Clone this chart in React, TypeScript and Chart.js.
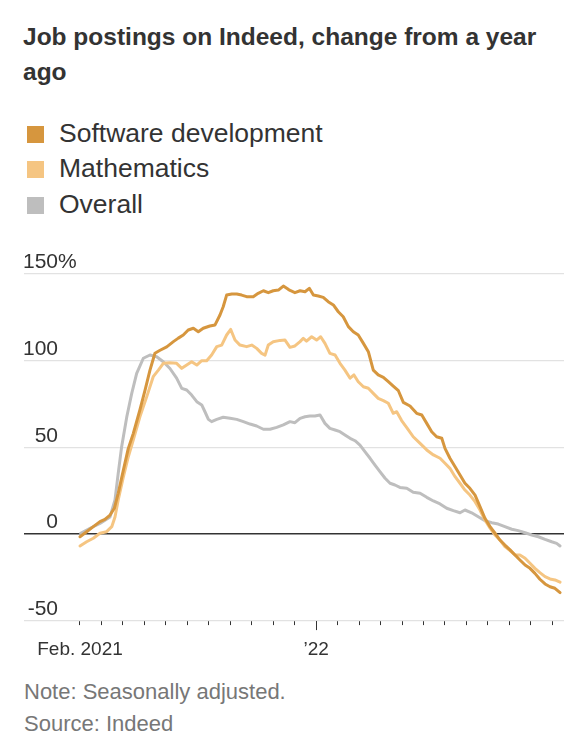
import React, { useEffect, useRef } from "react";
import { Chart, registerables } from "chart.js";

Chart.register(...registerables);

const FONT = '"Liberation Sans", Arial, sans-serif';

const titleLines = ["Job postings on Indeed, change from a year", "ago"];
const seriesNames = ["Software development", "Mathematics", "Overall"];
const seriesColors = ["#D6963E", "#F5C582", "#BEBEBE"];
const notes = ["Note: Seasonally adjusted.", "Source: Indeed"];

// x = months since Feb. 1, 2021
const softwareMonths = [
  0.0, 0.31, 0.62, 0.93, 1.16, 1.4, 1.6, 1.78, 2.02, 2.25, 2.48, 2.79, 3.03, 3.26, 3.49, 3.73, 4.04, 4.35,
  4.58, 4.81, 5.04, 5.28, 5.51, 5.74, 6.05, 6.29, 6.52, 6.67, 6.83, 7.07, 7.3, 7.53, 7.76, 8.07, 8.3, 8.54,
  8.77, 9.0, 9.24, 9.47, 9.7, 9.81, 10.01, 10.25, 10.48, 10.68, 10.87, 11.1, 11.33, 11.56, 11.8, 12.03,
  12.26, 12.5, 12.73, 12.96, 13.2, 13.43, 13.66, 13.89, 14.13, 14.36, 14.59, 14.83, 15.06, 15.37, 15.68,
  15.92, 16.15, 16.38, 16.61, 16.85, 17.0, 17.23, 17.47, 17.7, 17.93, 18.16, 18.4, 18.63, 18.86, 19.1,
  19.33, 19.56, 19.79, 20.03, 20.26, 20.49, 20.73, 20.96, 21.19, 21.42, 21.66, 21.89, 22.12, 22.36,
];
const softwareValues = [
  -1.4, 1.5, 4.4, 7.3, 8.6, 11.1, 15, 23.6, 37, 49.5, 58, 71.6, 83, 94.6, 104.3, 106, 108, 111,
  113, 114.8, 117.7, 118.7, 116.7, 118.7, 120, 120.6, 126.3, 131.1, 137.8, 138.4, 138.4, 137.8, 136.9, 136.9, 138.8, 140.3,
  139.2, 140.3, 140.7, 143, 141.1, 140.3, 139.2, 140.3, 139.7, 141.7, 137.8, 137.3, 136.5, 134, 132.1, 128.2,
  125.3, 119.6, 116.7, 114.8, 110, 105.2, 94.6, 91.8, 90.4, 87.9, 85.4, 82.7, 76, 73.9, 69.7,
  68.7, 63.9, 59.1, 56.2, 55.3, 49.5, 43.8, 38.9, 34.2, 29.4, 26.5, 22.6, 15.9, 9.2, 4.4,
  0.6, -3.3, -6.2, -9, -11.9, -14.8, -17.7, -19.6, -22.5, -25.9, -28.6, -30.2, -31.1, -33.6,
];

const mathMonths = [
  0.0, 0.31, 0.62, 0.93, 1.24, 1.48, 1.63, 1.78, 2.02, 2.25, 2.48, 2.79, 3.11, 3.41, 3.65, 3.88, 4.19, 4.5,
  4.74, 4.97, 5.2, 5.44, 5.67, 5.9, 6.13, 6.37, 6.6, 6.83, 7.02, 7.22, 7.45, 7.76, 8.0, 8.23, 8.46, 8.62,
  8.77, 9.0, 9.32, 9.55, 9.78, 10.01, 10.25, 10.4, 10.55, 10.79, 11.02, 11.21, 11.41, 11.64, 11.88, 12.11,
  12.34, 12.58, 12.76, 12.96, 13.2, 13.43, 13.66, 13.89, 14.13, 14.36, 14.59, 14.75, 14.98, 15.22, 15.52,
  15.84, 16.15, 16.46, 16.77, 17.0, 17.23, 17.47, 17.7, 17.93, 18.16, 18.4, 18.63, 18.86, 19.1, 19.33,
  19.56, 19.79, 20.03, 20.26, 20.49, 20.73, 20.96, 21.19, 21.42, 21.66, 21.89, 22.12, 22.36,
];
const mathValues = [
  -6.7, -4.3, -2.3, 0.6, 1.5, 4.4, 10, 19.8, 33, 44.7, 54.3, 67.7, 79.3, 90.8, 94.6, 98.5, 98.8, 98.5,
  95.6, 97.5, 99.4, 97.5, 100, 100, 103.3, 108.1, 109, 114.8, 118, 111.9, 109, 108.1, 109, 107.1, 104.2, 103.2,
  109, 110.9, 111.7, 111.9, 107.7, 108.5, 111, 112.9, 111.3, 113.8, 111.9, 113.8, 110, 104.2, 103.3, 98.5,
  94.6, 89.9, 91.8, 87.9, 85, 84.1, 81.2, 78.3, 77, 75.5, 69.7, 70.6, 65.5, 61.5, 56.2,
  52.4, 48.6, 45.7, 43.8, 40.9, 38, 33.2, 29.4, 25.5, 22.6, 18.8, 14, 8.2, 3.5, -0.4,
  -3.3, -7.1, -9.4, -11.9, -11.9, -13.8, -16.7, -19.6, -22.1, -24.4, -25.7, -26.3, -27.6,
];

const overallMonths = [
  0.03, 0.47, 0.93, 1.4, 1.63, 1.78, 1.94, 2.18, 2.41, 2.64, 2.95, 3.26, 3.57, 3.88, 4.19, 4.5, 4.74, 4.97,
  5.2, 5.44, 5.67, 5.82, 5.98, 6.13, 6.37, 6.67, 6.99, 7.3, 7.61, 7.92, 8.23, 8.54, 8.85, 9.16, 9.47, 9.78,
  10.01, 10.25, 10.48, 10.71, 10.94, 11.18, 11.41, 11.64, 11.88, 12.11, 12.34, 12.58, 12.81, 13.04, 13.27,
  13.51, 13.74, 13.97, 14.21, 14.44, 14.67, 14.9, 15.22, 15.52, 15.84, 16.15, 16.46, 16.77, 17.08, 17.39,
  17.7, 17.93, 18.24, 18.55, 18.86, 19.18, 19.48, 19.79, 20.11, 20.41, 20.73, 21.04, 21.35, 21.66, 21.97,
  22.2, 22.36,
];
const overallValues = [
  0.6, 3.5, 6.3, 10, 19.8, 35, 50.5, 67.7, 81.2, 92.7, 101.4, 103.3, 102.3, 99.4, 95.5, 90, 84.1, 83.1,
  80.2, 76.4, 74.5, 70.6, 66.2, 64.9, 66.2, 67.4, 66.8, 66.2, 64.9, 63.5, 62.4, 60.5, 60.5, 61.6, 63, 64.9,
  64.3, 66.8, 67.7, 68.1, 68.1, 68.7, 63.9, 61, 60.1, 59.1, 57.2, 55.3, 53.9, 51.4, 47.6,
  43.8, 39.9, 36.1, 32.3, 29.4, 28.4, 27, 26.5, 24.2, 23.6, 21.3, 19.2, 17.5, 15, 13.6,
  12.4, 14, 12.4, 10.1, 7.8, 6.7, 5.9, 4.4, 2.9, 2.1, 0.9, -0.4, -1.4, -2.9, -4.3,
  -5.2, -6.7,
];

const monthTicks = [0, 1, 2, 3, 4, 5, 6, 7, 8, 9, 10, 11, 12, 13, 14, 15, 16, 17, 18, 19, 20, 21, 22];
const xTickLabels: Record<number, string> = { 0: "Feb. 2021", 11: "\u201922" };
const yearTick = 11;
const yTicks = [-50, 0, 50, 100, 150];

const toPoints = (xs: number[], ys: number[]) => xs.map((x, i) => ({ x, y: ys[i] }));

const LABEL_RIGHT = 58;

const overlayPlugin = {
  id: "wsjOverlay",
  afterDraw(chart: any) {
    const { ctx, chartArea } = chart;
    const y = chart.scales.y;
    const x = chart.scales.x;
    ctx.save();
    ctx.font = `21px ${FONT}`;
    ctx.fillStyle = "#333333";
    ctx.textBaseline = "alphabetic";
    y.ticks.forEach((t: any) => {
      const py = y.getPixelForValue(t.value);
      ctx.textAlign = "right";
      ctx.fillText(String(t.value), LABEL_RIGHT, py - 6);
      if (t.value === yTicks[yTicks.length - 1]) {
        ctx.textAlign = "left";
        ctx.fillText("%", LABEL_RIGHT, py - 6);
      }
    });
    const px = Math.round(x.getPixelForValue(yearTick)) + 0.5;
    ctx.strokeStyle = "#333333";
    ctx.lineWidth = 1;
    ctx.beginPath();
    ctx.moveTo(px, chartArea.bottom);
    ctx.lineTo(px, chartArea.bottom + 9);
    ctx.stroke();
    ctx.restore();
  },
};

function LineChart() {
  const ref = useRef<HTMLCanvasElement | null>(null);
  useEffect(() => {
    if (!ref.current) return;
    const chart = new Chart(ref.current, {
      type: "line",
      data: {
        datasets: [
          { label: seriesNames[0], data: toPoints(softwareMonths, softwareValues), borderColor: seriesColors[0] },
          { label: seriesNames[1], data: toPoints(mathMonths, mathValues), borderColor: seriesColors[1] },
          { label: seriesNames[2], data: toPoints(overallMonths, overallValues), borderColor: seriesColors[2] },
        ],
      },
      options: {
        responsive: false,
        animation: false,
        devicePixelRatio: 1,
        layout: { padding: { top: 33.9, left: 24.3, right: 22, bottom: 0 } },
        elements: {
          line: { borderWidth: 3, tension: 0, borderJoinStyle: "round", borderCapStyle: "round" },
          point: { radius: 0 },
        },
        plugins: { legend: { display: false }, tooltip: { enabled: false } },
        scales: {
          x: {
            type: "linear",
            min: -2.594,
            max: 22.543,
            afterBuildTicks: (scale: any) => {
              scale.ticks = monthTicks.map((v) => ({ value: v }));
            },
            afterFit: (scale: any) => {
              scale.height = 48.9;
            },
            border: { display: false },
            grid: {
              drawOnChartArea: false,
              drawTicks: true,
              tickLength: 4,
              tickColor: "#333333",
              tickWidth: 1,
            },
            ticks: {
              autoSkip: false,
              maxRotation: 0,
              padding: 13,
              color: "#333333",
              font: { family: FONT, size: 19 },
              callback: (v: any) => xTickLabels[v] ?? "",
            },
          },
          y: {
            min: -50,
            max: 150,
            afterBuildTicks: (scale: any) => {
              scale.ticks = yTicks.map((v) => ({ value: v }));
            },
            afterFit: (scale: any) => {
              scale.width = 0;
            },
            border: { display: false },
            grid: {
              drawTicks: false,
              color: (c: any) => (c.tick && c.tick.value === 0 ? "#333333" : "#e2e2e2"),
              lineWidth: (c: any) => (c.tick && c.tick.value === 0 ? 1.6 : 1.2),
            },
            ticks: { display: false },
          },
        },
      },
      plugins: [overlayPlugin],
    } as any);
    return () => chart.destroy();
  }, []);
  return (
    <canvas
      ref={ref}
      width={586}
      height={430}
      style={{ position: "absolute", left: 0, top: 240, width: 586, height: 430 }}
    />
  );
}

export default function App() {
  const legendTops = [114.5, 150.3, 186.1];
  const squareTops = [125.5, 161.3, 197.1];
  return (
    <div
      style={{
        position: "absolute",
        left: 0,
        top: 0,
        width: 586,
        height: 752,
        background: "#ffffff",
        fontFamily: FONT,
        color: "#333333",
        overflow: "hidden",
      }}
    >
      <div
        style={{
          position: "absolute",
          left: 23,
          top: 19,
          fontSize: 24.5,
          fontWeight: 700,
          lineHeight: "35px",
          whiteSpace: "nowrap",
          color: "#333333",
        }}
      >
        {titleLines[0]}
        <br />
        {titleLines[1]}
      </div>
      {seriesNames.map((name, i) => (
        <React.Fragment key={name}>
          <div
            style={{
              position: "absolute",
              left: 27,
              top: squareTops[i],
              width: 17,
              height: 17,
              background: seriesColors[i],
            }}
          />
          <div
            style={{
              position: "absolute",
              left: 59,
              top: legendTops[i],
              fontSize: 26.5,
              lineHeight: "36px",
              whiteSpace: "nowrap",
              color: "#333333",
            }}
          >
            {name}
          </div>
        </React.Fragment>
      ))}
      <LineChart />
      <div
        style={{
          position: "absolute",
          left: 24,
          top: 676.4,
          fontSize: 22,
          lineHeight: "31.7px",
          color: "#777777",
          whiteSpace: "nowrap",
        }}
      >
        {notes[0]}
        <br />
        {notes[1]}
      </div>
    </div>
  );
}
